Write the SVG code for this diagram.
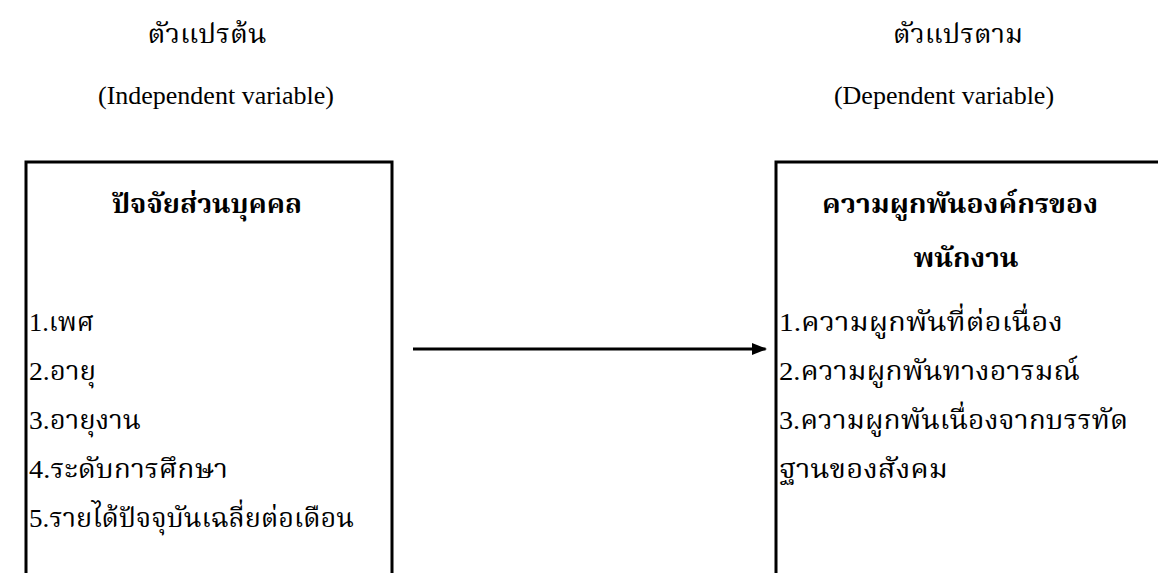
<svg xmlns="http://www.w3.org/2000/svg" width="1158" height="573" viewBox="0 0 1158 573">
<style>
text{font-family:"Liberation Serif","Noto Serif Thai","Noto Sans Thai","Noto Sans",serif;font-size:26px;fill:#000}
.b{font-weight:bold}
.m{text-anchor:middle}
.box{fill:none;stroke:#000;stroke-width:3}
.conn{stroke:#000;stroke-width:3;fill:none}
</style>
<defs>
<marker id="ah" markerWidth="5" markerHeight="4" refX="4.5" refY="2" orient="auto" markerUnits="strokeWidth">
<path d="M0,0 L5,2 L0,4 Z" fill="#000"/>
</marker>
</defs>
<rect width="1158" height="573" fill="#fff"/>
<g id="header-independent">
<text class="m" x="207" y="43" textLength="119" lengthAdjust="spacingAndGlyphs">ตัวแปรต้น</text>
<text class="m" x="216" y="104">(Independent variable)</text>
</g>
<g id="header-dependent">
<text class="m" x="958" y="43" textLength="130" lengthAdjust="spacingAndGlyphs">ตัวแปรตาม</text>
<text class="m" x="944" y="104">(Dependent variable)</text>
</g>
<g id="node-personal">
<path class="box" d="M26,580 V162 H392 V580"/>
<text class="m b" x="207" y="213" textLength="190" lengthAdjust="spacingAndGlyphs">ปัจจัยส่วนบุคคล</text>
<text x="29" y="331" textLength="65" lengthAdjust="spacingAndGlyphs">1.เพศ</text>
<text x="29" y="380" textLength="67" lengthAdjust="spacingAndGlyphs">2.อายุ</text>
<text x="29" y="429" textLength="112" lengthAdjust="spacingAndGlyphs">3.อายุงาน</text>
<text x="29" y="478" textLength="199" lengthAdjust="spacingAndGlyphs">4.ระดับการศึกษา</text>
<text x="29" y="527" textLength="325" lengthAdjust="spacingAndGlyphs">5.รายได้ปัจจุบันเฉลี่ยต่อเดือน</text>
</g>
<g id="node-commitment">
<path class="box" d="M776,580 V162 H1165"/>
<text class="m b" x="960" y="213" textLength="276" lengthAdjust="spacingAndGlyphs">ความผูกพันองค์กรของ</text>
<text class="m b" x="966" y="267" textLength="105" lengthAdjust="spacingAndGlyphs">พนักงาน</text>
<text x="779" y="331" textLength="284" lengthAdjust="spacingAndGlyphs">1.ความผูกพันที่ต่อเนื่อง</text>
<text x="779" y="380" textLength="301" lengthAdjust="spacingAndGlyphs">2.ความผูกพันทางอารมณ์</text>
<text x="779" y="429" textLength="349" lengthAdjust="spacingAndGlyphs">3.ความผูกพันเนื่องจากบรรทัด</text>
<text x="779" y="478" textLength="169" lengthAdjust="spacingAndGlyphs">ฐานของสังคม</text>
</g>
<g id="connectors">
<line class="conn" x1="413" y1="349" x2="765.5" y2="349" marker-end="url(#ah)"/>
</g>
</svg>
